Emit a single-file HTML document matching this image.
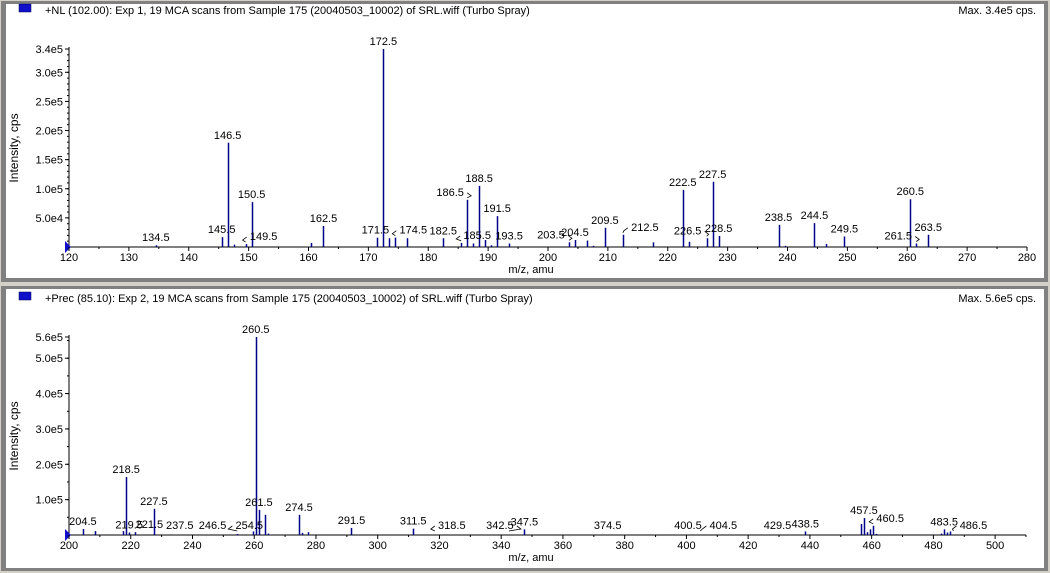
<!DOCTYPE html>
<html><head><meta charset="utf-8"><style>
html,body{margin:0;padding:0;background:#d4d0c8;}
svg{display:block;font-family:"Liberation Sans",Arial,sans-serif;}
text{font-size:11px;fill:#000;}
</style></head><body>
<svg id="chart" width="1050" height="573" viewBox="0 0 1050 573">
<rect x="0" y="0" width="1050" height="573" fill="#d4d0c8"/>
<rect x="1" y="1" width="1047" height="281" fill="#808080"/>
<rect x="6" y="4" width="1038" height="274" fill="#fff"/>
<rect x="1" y="286" width="1047" height="285" fill="#808080"/>
<rect x="6" y="289" width="1038" height="279" fill="#fff"/>
<rect x="19" y="4" width="12" height="8" fill="#1010c8" stroke="#000060" stroke-width="0.5"/>
<text x="45" y="14">+NL (102.00): Exp 1, 19 MCA scans from Sample 175 (20040503_10002) of SRL.wiff (Turbo Spray)</text>
<text x="1036" y="14" text-anchor="end">Max. 3.4e5 cps.</text>
<rect x="19" y="292" width="12" height="8" fill="#1010c8" stroke="#000060" stroke-width="0.5"/>
<text x="45" y="302">+Prec (85.10): Exp 2, 19 MCA scans from Sample 175 (20040503_10002) of SRL.wiff (Turbo Spray)</text>
<text x="1036" y="302" text-anchor="end">Max. 5.6e5 cps.</text>
</svg>
<script>
// ---- top spectrum data ----
const topMz = [134.5,145.5,146.5,147.5,149.5,150.5,160.5,162.5,171.5,172.5,173.5,174.5,176.5,182.5,185.5,186.5,187.5,188.5,189.5,190.5,191.5,193.5,203.5,204.5,206.5,207.5,209.5,212.5,217.5,222.5,223.5,226.5,227.5,228.5,238.5,239.5,244.5,246.5,249.5,260.5,261.5,263.5];
const topInt = [3e3,1.7e4,1.79e5,4e3,5e3,7.7e4,7e3,3.6e4,1.6e4,3.4e5,1.5e4,1.6e4,1.5e4,1.5e4,7e3,8.1e4,6e3,1.05e5,1.2e4,3e3,5.3e4,6e3,8e3,1.2e4,1.1e4,2e3,3.3e4,2.1e4,8e3,9.8e4,9e3,1.5e4,1.12e5,1.9e4,3.8e4,2e3,4.1e4,5e3,1.8e4,8.2e4,6e3,2.1e4];
const topLabels = ["134.5","145.5","146.5","149.5","150.5","162.5","171.5","172.5","174.5","182.5","185.5","186.5","188.5","191.5","193.5","203.5","204.5","209.5","212.5","222.5","226.5","227.5","228.5","238.5","244.5","249.5","260.5","261.5","263.5"];
const topYTicks = ["5.0e4","1.0e5","1.5e5","2.0e5","2.5e5","3.0e5"];
// ---- bottom spectrum data ----
const botMz = [204.5,208.5,217.5,218.5,219.5,221.5,227.5,254.5,259.5,260.5,261.5,263.5,264.5,274.5,275.5,277.5,291.5,311.5,347.5,438.5,456.5,457.5,458.5,459.5,460.5,461.5,482.5,483.5,484.5,485.5];
const botInt = [1.7e4,1.1e4,1.1e4,1.64e5,7e3,8e3,7.4e4,3e3,1e4,5.6e5,7.1e4,5.7e4,4e3,5.7e4,6e3,8e3,2e4,1.8e4,1.6e4,1e4,3.1e4,4.8e4,8e3,1.6e4,2.6e4,3e3,4e3,1.6e4,7e3,1e4];
const botLabels = ["204.5","218.5","219.5","221.5","227.5","237.5","246.5","254.5","260.5","261.5","274.5","291.5","311.5","318.5","342.5","347.5","374.5","400.5","404.5","429.5","438.5","457.5","460.5","483.5","486.5"];
const botYTicks = ["1.0e5","2.0e5","3.0e5","4.0e5","5.0e5"];

// label layout nudges (pixels; layout only, not data)
const topNudge = {"174.5":[18,0,1],"185.5":[16,0,1],"186.5":[-17,0,1],"203.5":[-18,0,1],"226.5":[-19,0,1],"261.5":[-18,0,1],"149.5":[18,0,1],"212.5":[22,0,1],"171.5":[-2,0,0]};
const botNudge = {"221.5":[14,0,0],"237.5":[-5,0,0],"254.5":[12,0,1],"404.5":[23,0,1],"460.5":[17,0,1],"486.5":[20,0,1],"342.5":[-9,0,1],"318.5":[17,0,1]};

const NS="http://www.w3.org/2000/svg";
const svg=document.getElementById('chart');
function mk(tag,attrs,txt){const e=document.createElementNS(NS,tag);for(const k in attrs)e.setAttribute(k,attrs[k]);if(txt!==undefined)e.textContent=txt;svg.appendChild(e);return e;}

function panel(cfg,mzArr,intArr,labels,yTicks,nudge,prefix){
  const sx=v=>cfg.x0+(v-cfg.xmin)*(cfg.x1-cfg.x0)/(cfg.xmax-cfg.xmin);
  const sy=v=>cfg.base-v*(cfg.base-cfg.top)/cfg.ymax;
  const intOf=m=>{const i=mzArr.indexOf(m);return i>=0?intArr[i]:0;};
  let e=mk('line',{x1:cfg.x0,y1:cfg.base,x2:cfg.x1,y2:cfg.base,stroke:'#000','stroke-width':1});
  
  
  e=mk('line',{x1:cfg.x0,y1:cfg.top-2,x2:cfg.x0,y2:cfg.base,stroke:'#000','stroke-width':1});
  
  
  e=mk('polygon',{points:`${cfg.x0-4},${cfg.base-6} ${cfg.x0+2},${cfg.base} ${cfg.x0-4},${cfg.base+6}`,fill:'#1010c8'});
  
  
  for(let v=cfg.xmin;v<=cfg.xmax+1e-6;v+=cfg.minor){
    const major=Math.abs((v-cfg.xmin)%cfg.major)<1e-6;
    const x=sx(v);
    mk('line',{x1:x,y1:cfg.base,x2:x,y2:cfg.base+(major?4:2),stroke:'#000'});
    if(major){
      e=mk('text',{x:x,y:cfg.base+14,'text-anchor':'middle'},String(v));
      
      
    }
  }
  const yAll=yTicks.concat([cfg.ymaxLabel]);
  yAll.forEach(t=>{
    const v=parseFloat(t);const y=sy(v);
    mk('line',{x1:cfg.x0-4,y1:y,x2:cfg.x0,y2:y,stroke:'#000'});
    e=mk('text',{x:cfg.x0-6,y:y+4,'text-anchor':'end'},t);
    
    
  });
  for(let v=cfg.yminor;v<cfg.ymax;v+=cfg.yminor){
    const y=sy(v);mk('line',{x1:cfg.x0-2,y1:y,x2:cfg.x0,y2:y,stroke:'#000'});
  }
  e=mk('text',{x:531,y:cfg.base+26,'text-anchor':'middle'},'m/z, amu');
  
  
  const cy=(cfg.top+cfg.base)/2;
  e=mk('text',{x:18,y:cy,'text-anchor':'middle',transform:`rotate(-90 18 ${cy})`,style:'font-size:12px'},'Intensity, cps');
  
  
  mzArr.forEach((m,i)=>{
    const x=Math.round(sx(m))+0.5;
    e=mk('line',{x1:x,y1:cfg.base,x2:x,y2:sy(intArr[i]),stroke:'#00008b','stroke-width':1.5});
    
    
  });
  labels.forEach(l=>{
    const m=parseFloat(l);const px=sx(m);const py=sy(intOf(m));
    const n=nudge[l]||[0,0,0];
    const x=px+n[0];
    const y=Math.min(py-4,cfg.base-6)+n[1];
    e=mk('text',{x:x,y:y,'text-anchor':'middle'},l);
    
    
    if(n[2]){
      const lx=n[0]>0?x-17:x+17;
      e=mk('polyline',{points:`${lx},${y-3} ${lx+(n[0]>0?-4:4)},${y} ${px},${Math.min(py,y+2)}`,fill:'none',stroke:'#000','stroke-width':0.8});
      
      
    }
  });
}
panel({x0:69,x1:1027,xmin:120,xmax:280,major:10,minor:5,base:247,top:49,ymax:3.4e5,ymaxLabel:'3.4e5',yminor:1e4},topMz,topInt,topLabels,topYTicks,topNudge,'top');
panel({x0:69,x1:1026,xmin:200,xmax:510,major:20,minor:10,base:535,top:337,ymax:5.6e5,ymaxLabel:'5.6e5',yminor:5e4},botMz,botInt,botLabels,botYTicks,botNudge,'bottom');
</script>
</body></html>
